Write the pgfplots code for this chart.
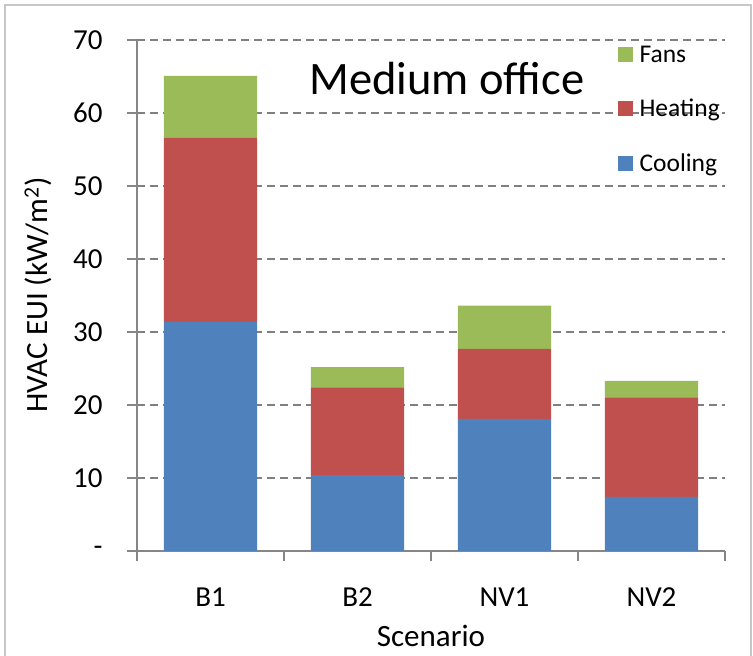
\documentclass[border=0pt]{standalone}
\usepackage{fontspec}
\setmainfont{Carlito}
\usepackage{pgfplots}
\pgfplotsset{compat=1.18}
\definecolor{cool}{HTML}{4F81BD}
\definecolor{heat}{HTML}{C0504D}
\definecolor{fans}{HTML}{9BBB59}
\definecolor{axgray}{HTML}{868686}
\definecolor{gridgray}{HTML}{808080}
\begin{document}
\begin{tikzpicture}[x=1pt,y=1pt]
\useasboundingbox (0,0) rectangle (753,656);
\draw[black!22, line width=1.5pt] (5,-5) -- (5,651) -- (751,651) -- (751,-5);
\begin{axis}[
  at={(137pt,105pt)}, anchor=south west,
  scale only axis, width=588pt, height=511pt,
  ybar stacked, bar width=0.633,
  xmin=-0.5, xmax=3.5, ymin=0, ymax=70,
  xtick={-0.5,0.5,1.5,2.5,3.5}, x tick label as interval,
  xticklabels={B1,B2,NV1,NV2},
  ytick={0,10,...,70}, yticklabels={-,10,20,30,40,50,60,70},
  axis x line*=bottom, axis y line*=left,
  axis line style={axgray, line width=1.2pt},
  tick align=outside, major tick length=10pt,
  tick style={axgray, line width=1.2pt},
  ymajorgrids, grid style={gridgray, line width=1.3pt, dash pattern=on 8pt off 5pt},
  /pgf/number format/assume math mode=true,
  yticklabel style={font=\fontsize{29}{33}\selectfont, anchor=east, xshift=-21pt},
  xticklabel style={font=\fontsize{29}{33}\selectfont, anchor=center, yshift=-36pt},
  xlabel={Scenario},
  ylabel={HVAC EUI (kW/m\textsuperscript{2})},
  xlabel style={font=\fontsize{31}{35}\selectfont, at={(axis description cs:0.5,-0.166)}, anchor=center},
  ylabel style={font=\fontsize{31}{35}\selectfont, at={(axis description cs:-0.168,0.501)}, anchor=center},
  legend style={at={(rel axis cs:0.817,0.993)}, anchor=north west, draw=none, fill=none,
    font=\fontsize{25.5}{29}\selectfont, row sep=31.5pt, inner sep=0pt,
    /tikz/every even column/.append style={column sep=11pt}},
  legend cell align=left,
  reverse legend,
  legend image code/.code={\fill[#1] (0pt,-7.5pt) rectangle (15pt,7.5pt); \path (20pt,0pt);},
  clip=false,
]
\addplot[fill=cool, draw=none] coordinates {(0,31.4) (1,10.4) (2,18.1) (3,7.4)};
\addplot[fill=heat, draw=none] coordinates {(0,25.2) (1,12.0) (2,9.6) (3,13.65)};
\addplot[fill=fans, draw=none] coordinates {(0,8.5) (1,2.8) (2,5.9) (3,2.25)};
\legend{Cooling,Heating,Fans}
\node[anchor=base, font=\fontsize{46.5}{52}\selectfont] at (rel axis cs:0.527,0.894) {Medium office};
\end{axis}
\end{tikzpicture}
\end{document}
